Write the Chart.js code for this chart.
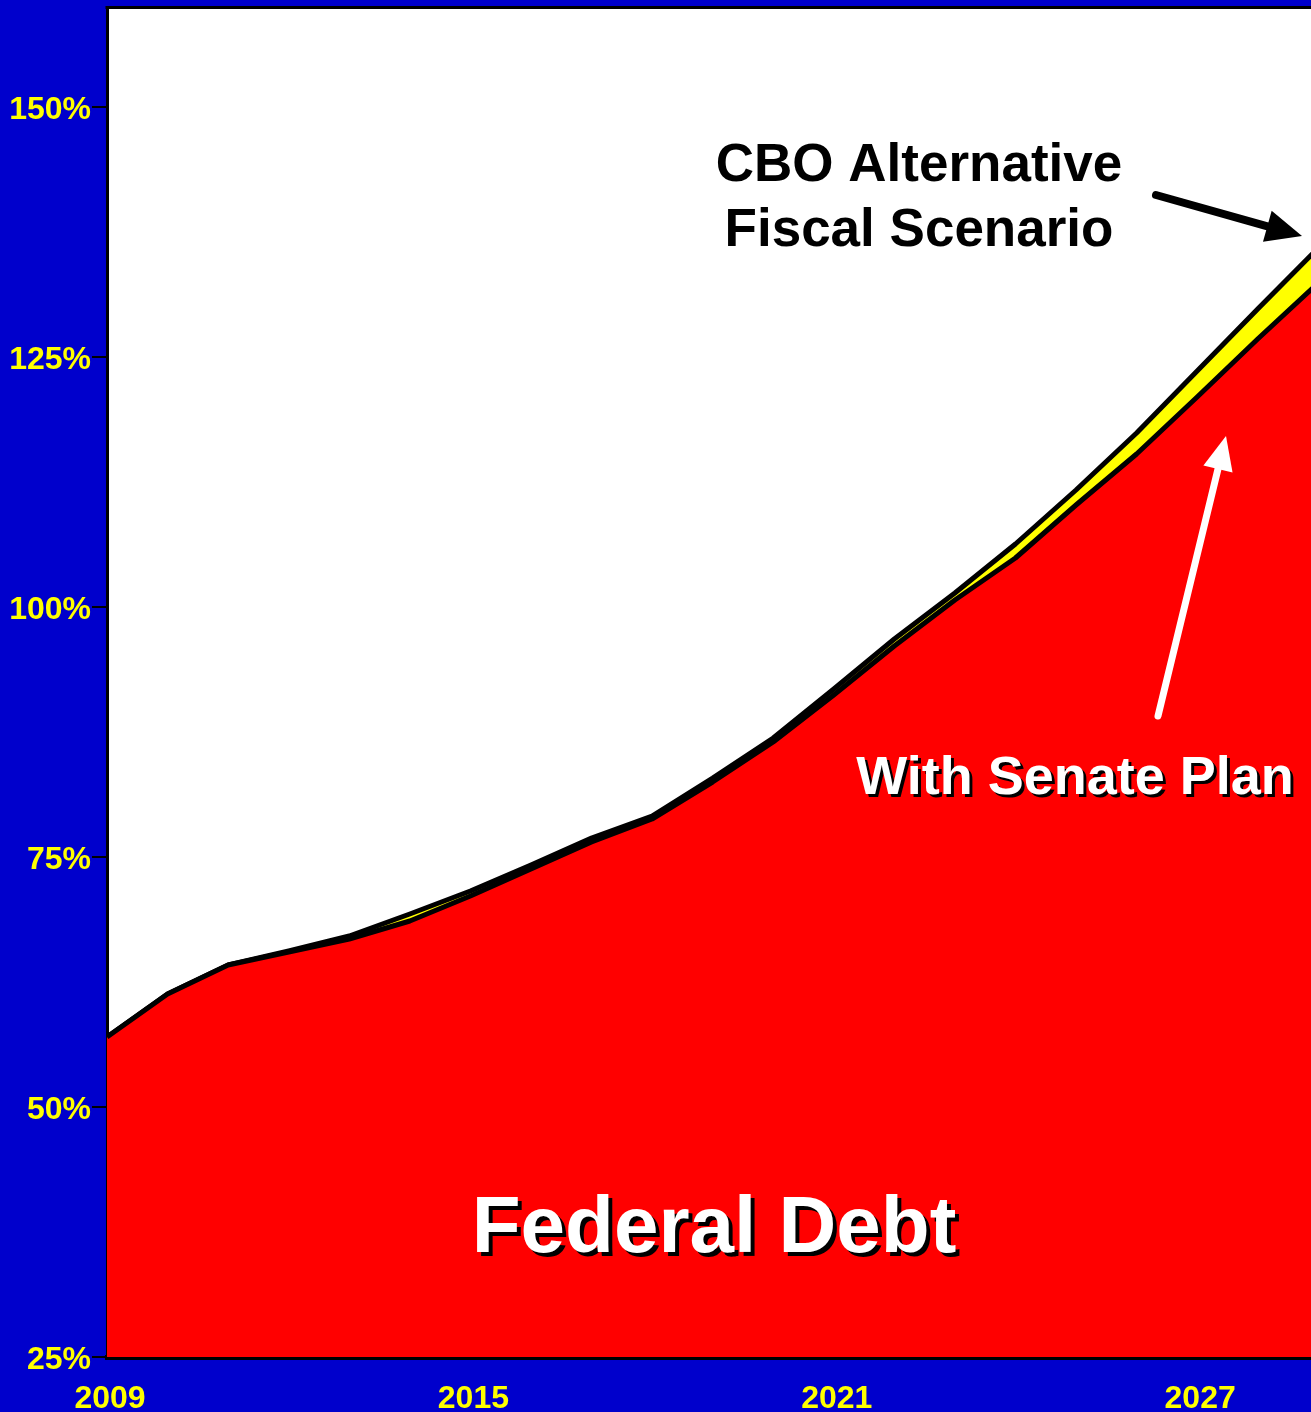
<!DOCTYPE html>
<html>
<head>
<meta charset="utf-8">
<script src="https://cdn.jsdelivr.net/npm/chart.js@4.4.1/dist/chart.umd.min.js"></script>
<style>
  html, body { margin: 0; padding: 0; background: #0000CC; overflow: hidden; }
  #wrap { width: 1311px; height: 1412px; }
</style>
</head>
<body>
<div id="wrap"><canvas id="c" width="1311" height="1412"></canvas></div>
<script>
// ---- data (debt as % of GDP) ----
const years = [2009, 2010, 2011, 2012, 2013, 2014, 2015, 2016, 2017, 2018, 2019,
               2020, 2021, 2022, 2023, 2024, 2025, 2026, 2027, 2028, 2029];
const cboAlternative = [57.0, 61.3, 64.2, 65.6, 67.1, 69.3, 71.6, 74.2, 76.9, 79.1, 82.9,
                        86.9, 91.8, 96.8, 101.4, 106.3, 111.7, 117.4, 123.6, 129.8, 135.9];
const senatePlan = [57.0, 61.3, 64.2, 65.5, 66.8, 68.6, 71.1, 73.8, 76.5, 78.8, 82.5,
                    86.5, 91.2, 96.1, 100.7, 104.9, 110.2, 115.3, 121.0, 126.8, 132.4];
const xTickYears = [2009, 2015, 2021, 2027];
const yTickValues = [25, 50, 75, 100, 125, 150];
const cboLabel = ["CBO Alternative", "Fiscal Scenario"];
const senateLabel = "With Senate Plan";
const debtLabel = "Federal Debt";

const FONT = '"Liberation Sans", Arial, Helvetica, sans-serif';
const BLUE = '#0000CC';
const YELLOW = '#FFFF00';

function arrow(ctx, x1, y1, x2, y2, width, headLen, headW, color) {
  const ang = Math.atan2(y2 - y1, x2 - x1);
  const bx = x2 - headLen * Math.cos(ang), by = y2 - headLen * Math.sin(ang);
  ctx.save();
  ctx.strokeStyle = color; ctx.fillStyle = color;
  ctx.lineWidth = width; ctx.lineCap = 'round';
  ctx.beginPath(); ctx.moveTo(x1, y1); ctx.lineTo(bx + 2 * Math.cos(ang), by + 2 * Math.sin(ang)); ctx.stroke();
  ctx.beginPath();
  ctx.moveTo(x2, y2);
  ctx.lineTo(bx + headW / 2 * Math.sin(ang), by - headW / 2 * Math.cos(ang));
  ctx.lineTo(bx - headW / 2 * Math.sin(ang), by + headW / 2 * Math.cos(ang));
  ctx.closePath(); ctx.fill();
  ctx.restore();
}

function shadowText(ctx, txt, x, y, size, fg, off) {
  ctx.save();
  ctx.font = 'bold ' + size + 'px ' + FONT;
  ctx.textAlign = 'center'; ctx.textBaseline = 'middle';
  ctx.fillStyle = '#000000';
  ctx.fillText(txt, x + off, y + off);
  ctx.fillStyle = fg;
  ctx.fillText(txt, x, y);
  ctx.restore();
}

const bgPlugin = {
  id: 'bg',
  beforeDraw(chart) {
    const { ctx, chartArea: a } = chart;
    ctx.save();
    ctx.fillStyle = BLUE;
    ctx.fillRect(0, 0, chart.width, chart.height);
    ctx.fillStyle = '#FFFFFF';
    ctx.fillRect(a.left, a.top, a.right - a.left, a.bottom - a.top);
    ctx.restore();
  },
  afterDraw(chart) {
    const { ctx, chartArea: a } = chart;
    ctx.save();
    ctx.strokeStyle = '#000000'; ctx.lineWidth = 3;
    ctx.beginPath(); ctx.moveTo(a.left - 1.5, a.top + 0.5); ctx.lineTo(a.right, a.top + 0.5); ctx.stroke();
    ctx.restore();

    // CBO annotation
    ctx.save();
    ctx.font = 'bold 53px ' + FONT;
    ctx.fillStyle = '#000000';
    ctx.textAlign = 'center'; ctx.textBaseline = 'middle';
    ctx.fillText(cboLabel[0], 919, 166);
    ctx.fillText(cboLabel[1], 919, 231);
    ctx.restore();
    arrow(ctx, 1156, 195, 1302, 236, 8, 36, 32, '#000000');

    // Senate plan annotation
    arrow(ctx, 1158, 716, 1226, 436, 7, 34, 30, '#FFFFFF');
    shadowText(ctx, senateLabel, 1075, 779, 54, '#FFFFFF', 3);

    // Federal Debt label
    shadowText(ctx, debtLabel, 714, 1230, 80, '#FFFFFF', 4);
  }
};

const cboData = years.map((y, i) => ({ x: y, y: cboAlternative[i] }));
const senateData = years.map((y, i) => ({ x: y, y: senatePlan[i] }));

new Chart(document.getElementById('c'), {
  type: 'line',
  data: {
    datasets: [
      {
        label: 'With Senate Plan',
        data: senateData,
        borderColor: '#000000',
        borderWidth: 5,
        backgroundColor: '#FF0000',
        fill: 'start',
        tension: 0,
        pointRadius: 0,
        borderJoinStyle: 'round'
      },
      {
        label: 'CBO Alternative Fiscal Scenario',
        data: cboData,
        borderColor: '#000000',
        borderWidth: 5,
        backgroundColor: YELLOW,
        fill: '-1',
        tension: 0,
        pointRadius: 0,
        borderJoinStyle: 'round'
      }
    ]
  },
  options: {
    responsive: false,
    animation: false,
    devicePixelRatio: 1,
    layout: { padding: { top: 7, right: 0, bottom: 0, left: 0 } },
    plugins: {
      legend: { display: false },
      tooltip: { enabled: false },
      title: { display: false }
    },
    scales: {
      x: {
        type: 'linear',
        min: 2009,
        max: 2028.88,
        afterBuildTicks(scale) { scale.ticks = xTickYears.map(v => ({ value: v })); },
        afterFit(scale) { scale.height = 55; scale.paddingLeft = 0; scale.paddingRight = 0; },
        grid: { display: false },
        border: { display: true, color: '#000000', width: 5 },
        ticks: {
          color: YELLOW,
          font: { family: FONT, size: 32, weight: 'bold' },
          padding: 15,
          labelOffset: 3,
          maxRotation: 0,
          autoSkip: false,
          callback: v => String(v)
        }
      },
      y: {
        type: 'linear',
        min: 25,
        max: 160,
        afterBuildTicks(scale) { scale.ticks = yTickValues.map(v => ({ value: v })); },
        afterFit(scale) { scale.width = 107; scale.paddingTop = 0; scale.paddingBottom = 0; },
        grid: {
          display: true,
          drawOnChartArea: false,
          drawTicks: true,
          tickLength: 15,
          color: '#000000',
          lineWidth: 2
        },
        border: { display: true, color: '#000000', width: 3 },
        ticks: {
          color: YELLOW,
          font: { family: FONT, size: 32, weight: 'bold' },
          padding: 1,
          labelOffset: 3,
          callback: v => v + '%'
        }
      }
    }
  },
  plugins: [bgPlugin]
});
</script>
</body>
</html>
